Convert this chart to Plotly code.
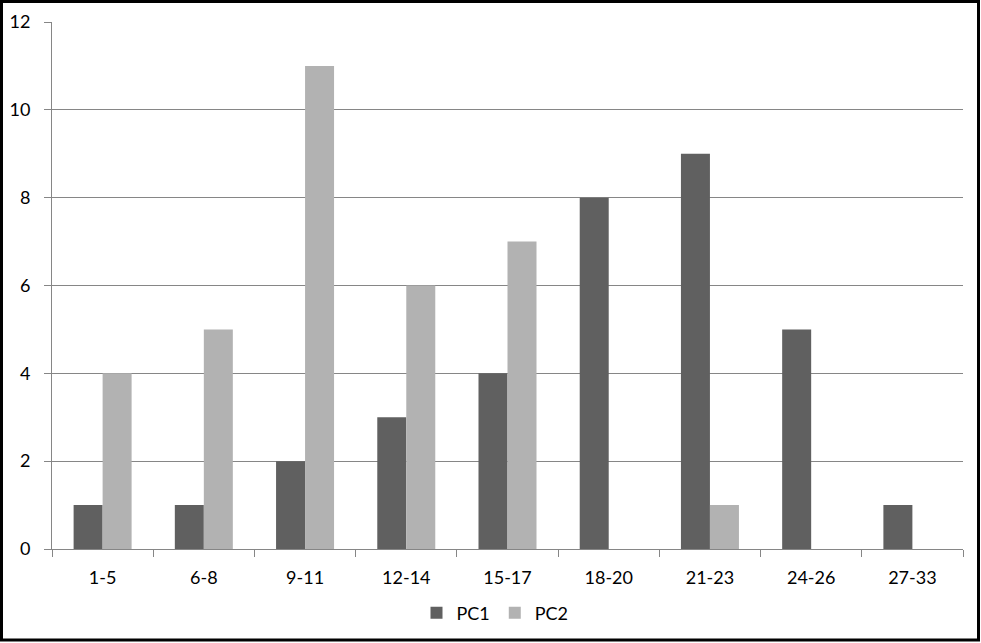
import plotly.graph_objects as go

categories = ["1-5", "6-8", "9-11", "12-14", "15-17", "18-20", "21-23", "24-26", "27-33"]
pc1 = [1, 1, 2, 3, 4, 8, 9, 5, 1]
pc2 = [4, 5, 11, 6, 7, 0, 1, 0, 0]

W, H = 981, 643
L, R, T, B = 52, 18, 22, 94
pw, ph = W - L - R, H - T - B

fig = go.Figure()
fig.add_trace(go.Bar(name="PC1", x=categories, y=pc1, marker=dict(color="#606060", line=dict(width=0))))
fig.add_trace(go.Bar(name="PC2", x=categories, y=pc2, marker=dict(color="#b2b2b2", line=dict(width=0))))

font = "Lato"

def px_x(p):
    return (p - L) / pw

def px_y(p):
    return (H - B - p) / ph

fig.update_layout(
    width=W, height=H,
    margin=dict(l=L, r=R, t=T, b=B, autoexpand=False),
    paper_bgcolor="white", plot_bgcolor="white",
    barmode="group", bargap=0.427, bargroupgap=0,
    font=dict(family=font, size=18, color="#000000"),
    showlegend=True,
    legend=dict(orientation="h", x=px_x(495), xanchor="center", y=px_y(613), yanchor="middle",
                font=dict(size=18), itemwidth=30, traceorder="normal"),
    xaxis=dict(showline=True, linecolor="#868686", linewidth=1, ticks="outside", tickson="boundaries",
               ticklen=7, tickcolor="#868686", showgrid=False, ticklabelstandoff=12,
               tickfont=dict(size=18), automargin=False),
    yaxis=dict(range=[0, 12], dtick=2, showline=True, linecolor="#868686", linewidth=1,
               ticks="outside", ticklen=7, tickcolor="#868686", showgrid=True, gridcolor="#868686",
               gridwidth=1, zeroline=False, ticklabelstandoff=10, tickfont=dict(size=18),
               automargin=False),
    shapes=[dict(type="rect", xref="paper", yref="paper",
                 x0=px_x(1.5), x1=px_x(978.5), y0=px_y(640), y1=px_y(1.5),
                 line=dict(color="black", width=3), fillcolor="rgba(0,0,0,0)", layer="above")],
)

fig.write_html("out.html")
